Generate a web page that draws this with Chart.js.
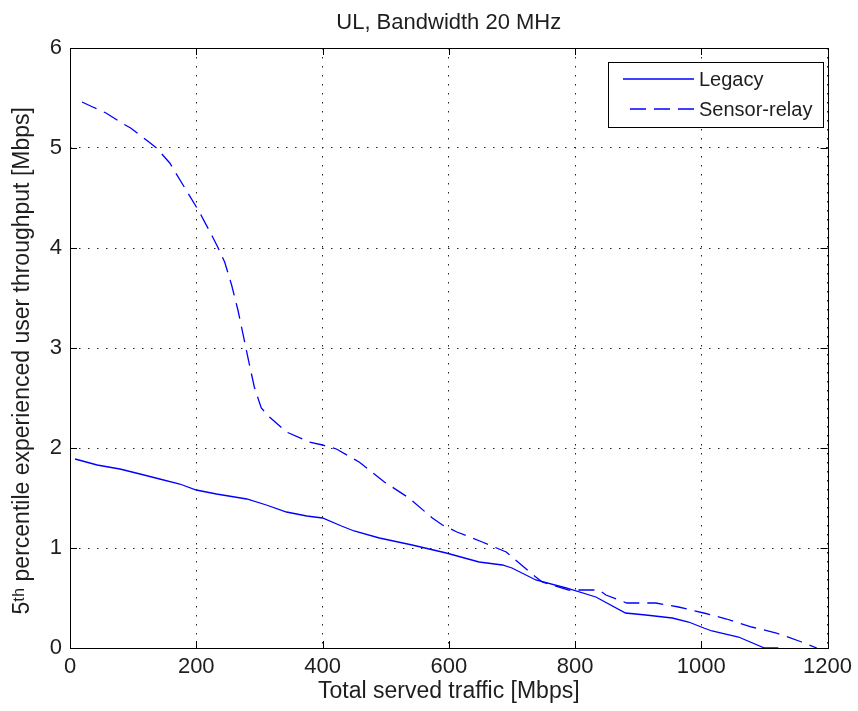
<!DOCTYPE html>
<html>
<head>
<meta charset="utf-8">
<script src="https://cdn.jsdelivr.net/npm/chart.js@4.4.1/dist/chart.umd.min.js"></script>
<style>
  html, body { margin: 0; padding: 0; background: #ffffff; }
  #wrap { width: 858px; height: 711px; }
</style>
</head>
<body>
<div id="wrap"><canvas id="c" width="858" height="711"></canvas></div>
<script>
const chartTitle = 'UL, Bandwidth 20 MHz';
const xTitle = 'Total served traffic [Mbps]';
const yTitle = '5\u1D57\u02B0 percentile experienced user throughput [Mbps]\u00A0\u00A0\u00A0\u00A0';
const seriesNames = ['Legacy', 'Sensor-relay'];

const xTicks = [0, 200, 400, 600, 800, 1000, 1200];
const yTicks = [0, 1, 2, 3, 4, 5, 6];

const legacyX = [8, 43, 79, 111, 142, 174, 200, 232, 280, 311, 343, 375, 400, 430, 450, 490, 542, 596, 648, 685, 700, 738, 786, 833, 880, 912, 954, 980, 1004, 1017, 1059, 1100, 1122];
const legacyY = [1.89, 1.83, 1.79, 1.74, 1.69, 1.64, 1.58, 1.54, 1.49, 1.43, 1.36, 1.32, 1.30, 1.22, 1.17, 1.10, 1.03, 0.95, 0.86, 0.83, 0.80, 0.68, 0.60, 0.51, 0.35, 0.33, 0.30, 0.26, 0.20, 0.17, 0.11, 0, 0];

const sensorX = [19, 36, 57, 82, 96, 123, 137, 158, 205, 226, 234, 245, 256, 266, 277, 285, 292, 303, 316, 343, 379, 400, 422, 458, 498, 537, 574, 590, 613, 653, 691, 730, 748, 790, 838, 849, 882, 928, 964, 1004, 1040, 1080, 1119, 1159, 1183];
const sensorY = [5.46, 5.41, 5.35, 5.25, 5.20, 5.07, 5.00, 4.85, 4.36, 4.11, 4.01, 3.86, 3.63, 3.38, 3.05, 2.81, 2.61, 2.40, 2.31, 2.16, 2.06, 2.03, 1.99, 1.86, 1.66, 1.50, 1.30, 1.23, 1.16, 1.06, 0.96, 0.75, 0.66, 0.58, 0.58, 0.53, 0.45, 0.45, 0.41, 0.35, 0.29, 0.21, 0.15, 0.06, 0];

const toPts = (xs, ys) => xs.map((x, i) => ({ x: x, y: ys[i] }));

const FONT = "'Liberation Sans', Arial, sans-serif";
const TEXT = '#1e1e1e';
const LINE_BLUE = '#0000ff';
const DASH = [16, 8];
const GRID_DASH = [1.5, 7.5];

const framePlugin = {
  id: 'frame',
  afterDatasetsDraw(chart) {
    const { ctx, chartArea: a, scales } = chart;
    ctx.save();
    ctx.strokeStyle = '#000';
    ctx.lineWidth = 1;
    ctx.strokeRect(Math.round(a.left) + 0.5, Math.round(a.top) + 0.5, Math.round(a.right - a.left), Math.round(a.bottom - a.top));
    const tl = 7;
    ctx.beginPath();
    xTicks.forEach(v => {
      const px = Math.round(scales.x.getPixelForValue(v)) + 0.5;
      ctx.moveTo(px, a.bottom); ctx.lineTo(px, a.bottom - tl);
      ctx.moveTo(px, a.top); ctx.lineTo(px, a.top + tl);
    });
    yTicks.forEach(v => {
      const py = Math.round(scales.y.getPixelForValue(v)) + 0.5;
      ctx.moveTo(a.left, py); ctx.lineTo(a.left + tl, py);
      ctx.moveTo(a.right, py); ctx.lineTo(a.right - tl, py);
    });
    ctx.stroke();

    // legend
    const lx = 608, ly = 62, lw = 215, lh = 65;
    ctx.fillStyle = '#fff';
    ctx.fillRect(lx, ly, lw, lh);
    ctx.strokeRect(lx + 0.5, ly + 0.5, lw, lh);
    const ds = chart.data.datasets;
    const rows = [79, 109];
    ds.forEach((d, i) => {
      ctx.beginPath();
      ctx.strokeStyle = d.borderColor;
      ctx.lineWidth = 1.3;
      ctx.setLineDash(d.borderDash || []);
      const x0 = i === 0 ? 623 : 630;
      ctx.moveTo(x0, rows[i]); ctx.lineTo(694, rows[i]);
      ctx.stroke();
      ctx.setLineDash([]);
      ctx.fillStyle = TEXT;
      ctx.font = '20px ' + FONT;
      ctx.textBaseline = 'middle';
      ctx.textAlign = 'left';
      ctx.fillText(d.label, 699, rows[i] + 1);
    });
    ctx.restore();
  }
};

const gridCfg = { color: '#222', lineWidth: 1, drawTicks: false };

new Chart(document.getElementById('c'), {
  type: 'line',
  data: {
    datasets: [
      { label: seriesNames[0], data: toPts(legacyX, legacyY), borderColor: LINE_BLUE, borderWidth: 1.3, pointRadius: 0, tension: 0, fill: false },
      { label: seriesNames[1], data: toPts(sensorX, sensorY), borderColor: LINE_BLUE, borderWidth: 1.3, borderDash: DASH, pointRadius: 0, tension: 0, fill: false }
    ]
  },
  options: {
    responsive: false,
    animation: false,
    devicePixelRatio: 1,
    layout: { padding: { left: 0, right: 30, top: 0, bottom: 0 } },
    plugins: {
      legend: { display: false },
      tooltip: { enabled: false },
      title: {
        display: true,
        fullSize: false,
        text: chartTitle,
        color: TEXT,
        font: { family: FONT, size: 22, weight: 'normal', lineHeight: 1.2 },
        padding: { top: 10, bottom: 11.6 }
      }
    },
    scales: {
      x: {
        type: 'linear',
        min: 0, max: 1200,
        afterBuildTicks: s => { s.ticks = xTicks.map(v => ({ value: v })); },
        afterFit: s => { s.height = 63; },
        ticks: { color: TEXT, font: { family: FONT, size: 22 }, padding: 6, maxRotation: 0, callback: v => String(v) },
        grid: gridCfg,
        border: { display: false, dash: GRID_DASH },
        title: { display: true, text: xTitle, color: TEXT, font: { family: FONT, size: 23 }, padding: { top: 0, bottom: 6 } }
      },
      y: {
        type: 'linear',
        min: 0, max: 6,
        afterBuildTicks: s => { s.ticks = yTicks.map(v => ({ value: v })); },
        afterFit: s => { s.width = 70; },
        ticks: { color: TEXT, font: { family: FONT, size: 22 }, padding: 8, callback: v => String(v) },
        grid: gridCfg,
        border: { display: false, dash: GRID_DASH },
        title: { display: true, text: yTitle, color: TEXT, font: { family: FONT, size: 23 }, padding: { top: 9, bottom: 0 } }
      }
    }
  },
  plugins: [framePlugin]
});
</script>
</body>
</html>
